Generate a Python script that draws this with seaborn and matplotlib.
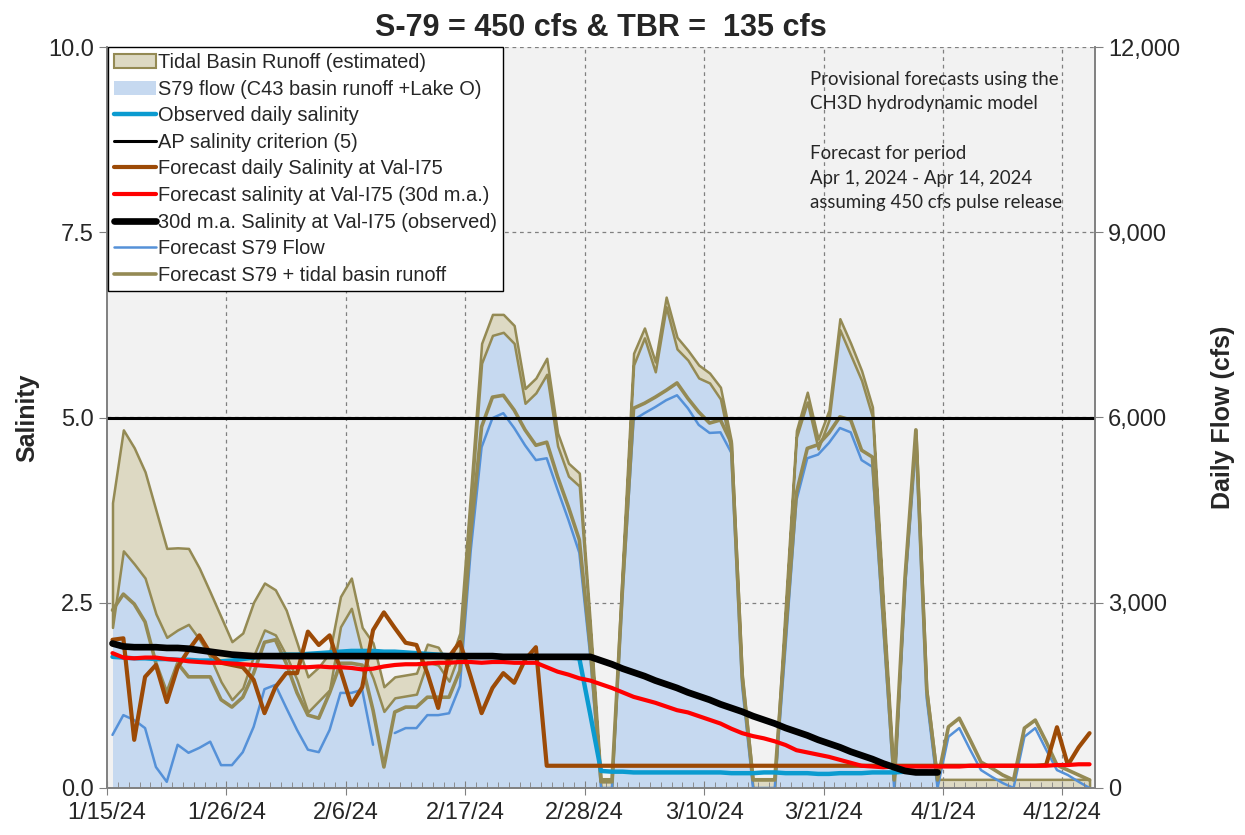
import numpy as np
import pandas as pd
import seaborn as sns
import matplotlib.pyplot as plt
import matplotlib.dates as mdates
from matplotlib.patches import Patch
from matplotlib.lines import Line2D
from matplotlib.ticker import FuncFormatter

nan = np.nan

# daily values, 1/15/24 .. 4/14/24 (points sit mid-day)
dates = pd.date_range("2024-01-15 12:00", periods=91, freq="D")

# flows (cfs)
s79_flow = [2600, 3840, 3630, 3400, 2820, 2440, 2560, 2650, 2410, 2120,
            1720, 1430, 1620, 2140, 2560, 2480, 2150, 1750, 1230, 1410,
            1590, 2610, 2910, 2200, 1780, 1240, 1460, 1490, 1520, 2040,
            1990, 1730, 2210, 4550, 6880, 7330, 7380, 7200, 6230, 6400,
            6700, 5540, 5050, 4890, 2550, 0, 0, 3540, 6850, 7290,
            6740, 7790, 7110, 6930, 6640, 6560, 6300, 5460, 1710, 0,
            0, 0, 2840, 5680, 6250, 5490, 5960, 7420, 7010, 6600,
            6010, 2880, 0, 3350, 5650, 1450, 0, 0, 0, 0,
            0, 0, 0, 0, 0, 0, 0, 0, 0, 0, 0]
tidal_runoff = [2020, 1960, 1880, 1720, 1680, 1440, 1330, 1230, 1150, 1050,
                1050, 940, 890, 870, 760, 730, 730, 600, 570, 550,
                600, 490, 490, 400, 570, 400, 340, 340, 340, 290,
                290, 260, 300, 280, 320, 340, 290, 290, 240, 240,
                260, 210, 210, 210, 150, 150, 150, 150, 190, 160,
                160, 160, 190, 160, 210, 160, 190, 160, 150, 150,
                150, 150, 160, 110, 160, 160, 160, 180, 190, 160,
                160, 160, 150, 150, 150, 140, 140, 140, 140, 140,
                140, 140, 140, 140, 140, 140, 140, 140, 140, 140, 140]
fc_s79_flow = [860, 1180, 1100, 970, 340, 100, 700, 570, 650, 750,
               370, 370, 580, 990, 1600, 1670, 1300, 940, 620, 580,
               940, 1540, 1540, 1590, 700, nan, 890, 970, 970, 1180,
               1180, 1210, 1650, 3850, 5520, 5990, 6070, 5830, 5550, 5310,
               5340, 4830, 4340, 3810, 2150, 0, 0, 3200, 5960, 6070,
               6170, 6280, 6360, 6150, 5880, 5750, 5760, 5430, 1650, 0,
               0, 0, 2300, 4660, 5340, 5400, 5590, 5830, 5760, 5310,
               5200, 2600, 0, 3250, 5650, 1450, 0, 830, 970, 620,
               290, 180, 80, 0, 830, 970, 620, 290, 210, 100, 0]
fc_total_flow = [2880, 3140, 2980, 2690, 2020, 1540, 2020, 1800, 1800, 1800,
                 1430, 1310, 1470, 1860, 2360, 2400, 2020, 1540, 1180, 1130,
                 1540, 2020, 2020, 1990, 1260, 340, 1230, 1310, 1310, 1470,
                 1470, 1470, 1900, 4130, 5850, 6330, 6360, 6120, 5800, 5550,
                 5600, 5040, 4550, 4020, 2300, 100, 100, 3300, 6150, 6230,
                 6330, 6440, 6560, 6310, 6090, 5910, 5960, 5590, 1800, 130,
                 130, 130, 2510, 4780, 5500, 5560, 5750, 6010, 5960, 5470,
                 5360, 2770, 130, 3400, 5800, 1590, 130, 990, 1130, 780,
                 420, 320, 210, 130, 970, 1100, 750, 370, 290, 210, 130]

# salinity
obs_daily_sal = [1.77, 1.76, 1.75, 1.75, 1.74, 1.74, 1.73, 1.73, 1.72, 1.72,
                 1.71, 1.72, 1.74, 1.76, 1.78, 1.79, 1.80, 1.80, 1.81, 1.82,
                 1.83, 1.84, 1.85, 1.85, 1.85, 1.84, 1.84, 1.83, 1.82, 1.81,
                 1.80, 1.79, 1.78, 1.78, 1.78, 1.78, 1.77, 1.77, 1.77, 1.77,
                 1.77, 1.76, 1.76, 1.75, 1.00, 0.23, 0.22, 0.22, 0.21, 0.21,
                 0.21, 0.21, 0.21, 0.21, 0.21, 0.21, 0.21, 0.20, 0.20, 0.20,
                 0.21, 0.21, 0.20, 0.20, 0.20, 0.19, 0.19, 0.20, 0.20, 0.20,
                 0.21, 0.21, 0.21, 0.22, 0.22, 0.22, nan, nan, nan, nan,
                 nan, nan, nan, nan, nan, nan, nan, nan, nan, nan, nan]
obs_ma_sal = [1.95, 1.91, 1.90, 1.90, 1.90, 1.89, 1.89, 1.88, 1.86, 1.84,
              1.82, 1.80, 1.79, 1.78, 1.78, 1.78, 1.78, 1.78, 1.78, 1.78,
              1.78, 1.78, 1.78, 1.78, 1.78, 1.78, 1.78, 1.78, 1.78, 1.78,
              1.78, 1.78, 1.78, 1.78, 1.78, 1.78, 1.77, 1.77, 1.77, 1.77,
              1.77, 1.77, 1.77, 1.77, 1.77, 1.72, 1.67, 1.61, 1.56, 1.51,
              1.45, 1.40, 1.35, 1.29, 1.24, 1.19, 1.13, 1.08, 1.03, 0.97,
              0.92, 0.87, 0.81, 0.76, 0.71, 0.65, 0.60, 0.55, 0.49, 0.44,
              0.39, 0.33, 0.28, 0.23, 0.21, 0.21, 0.21, nan, nan, nan,
              nan, nan, nan, nan, nan, nan, nan, nan, nan, nan, nan]
fc_ma_sal = [1.82, 1.76, 1.75, 1.76, 1.76, 1.74, 1.73, 1.71, 1.70, 1.69,
             1.69, 1.68, 1.67, 1.66, 1.65, 1.64, 1.63, 1.63, 1.63, 1.64,
             1.63, 1.63, 1.62, 1.60, 1.61, 1.64, 1.66, 1.67, 1.67, 1.68,
             1.69, 1.69, 1.70, 1.70, 1.69, 1.70, 1.70, 1.69, 1.69, 1.69,
             1.63, 1.57, 1.53, 1.48, 1.45, 1.40, 1.35, 1.29, 1.23, 1.19,
             1.15, 1.10, 1.05, 1.02, 0.97, 0.92, 0.87, 0.80, 0.74, 0.70,
             0.67, 0.63, 0.58, 0.51, 0.48, 0.45, 0.42, 0.38, 0.34, 0.30,
             0.29, 0.28, 0.29, 0.29, 0.29, 0.29, 0.29, 0.29, 0.29, 0.30,
             0.30, 0.30, 0.30, 0.30, 0.30, 0.30, 0.30, 0.31, 0.31, 0.32, 0.32]
fc_daily_sal = [2.00, 2.02, 0.65, 1.50, 1.66, 1.16, 1.63, 1.86, 2.06, 1.82,
                1.69, 1.66, 1.63, 1.46, 1.01, 1.36, 1.55, 1.55, 2.11, 1.93,
                2.06, 1.59, 1.12, 1.36, 2.13, 2.37, 2.16, 1.96, 1.93, 1.55,
                1.08, 1.77, 1.97, 1.50, 1.01, 1.35, 1.55, 1.42, 1.73, 1.90,
                0.30, 0.30, 0.30, 0.30, 0.30, 0.30, 0.30, 0.30, 0.30, 0.30,
                0.30, 0.30, 0.30, 0.30, 0.30, 0.30, 0.30, 0.30, 0.30, 0.30,
                0.30, 0.30, 0.30, 0.30, 0.30, 0.30, 0.30, 0.30, 0.30, 0.30,
                0.30, 0.30, 0.30, 0.30, 0.30, 0.30, 0.30, 0.30, 0.30, 0.30,
                0.30, 0.30, 0.30, 0.30, 0.30, 0.30, 0.31, 0.82, 0.31, 0.55, 0.74]
criterion = 5.0

tick_dates = pd.date_range("2024-01-15", "2024-04-12", freq="11D")

df = pd.DataFrame({"date": dates, "s79": s79_flow, "tidal": tidal_runoff,
                   "fc_s79": fc_s79_flow, "fc_total": fc_total_flow,
                   "obs_daily": obs_daily_sal, "obs_ma": obs_ma_sal,
                   "fc_ma": fc_ma_sal, "fc_daily": fc_daily_sal})
df["obs_total"] = df["s79"] + df["tidal"]
# keep the gap in the forecast S79 line (seaborn would bridge it)
df["fc_s79_seg"] = df["fc_s79"].isna().cumsum()

sns.set_style("ticks")
plt.rcParams["font.family"] = ["Liberation Sans", "DejaVu Sans"]

c_tan, c_olive, c_blue_fill = "#ddd9c3", "#948a54", "#c6d9f0"
c_obs, c_brown, c_fcblue = "#0b9bd0", "#9c4a06", "#5591d8"
c_axis = "#808080"

fig = plt.figure(figsize=(12.45, 8.35), dpi=100)
ax1 = fig.add_axes([0.086, 0.0563, 0.7935, 0.8874])
ax2 = ax1.twinx()
ax1.set_zorder(ax2.get_zorder() + 1)
ax1.patch.set_visible(False)
ax2.patch.set_visible(True)
ax2.set_facecolor("#f2f2f2")

# flow axis: grid, stacked areas, forecast flows
for d in tick_dates[1:]:
    ax2.axvline(d, color=c_axis, lw=0.9, ls=(0, (3, 3)), zorder=0)
ax2.yaxis.grid(True, color=c_axis, lw=0.9, ls=(0, (3, 3)), zorder=0)
ax2.fill_between(df["date"], 0, df["s79"], color=c_blue_fill, lw=0, zorder=1)
ax2.fill_between(df["date"], df["s79"], df["obs_total"], facecolor=c_tan,
                 edgecolor=c_olive, lw=1.8, zorder=2)
fc = df.dropna(subset=["fc_s79"])
sns.lineplot(data=fc, x="date", y="fc_s79", units="fc_s79_seg", ax=ax2,
             color=c_fcblue, lw=1.8, estimator=None, zorder=3)
sns.lineplot(data=df, x="date", y="fc_total", ax=ax2, color=c_olive, lw=2.6,
             estimator=None, zorder=4)

# salinity axis
sns.lineplot(data=df, x="date", y="obs_daily", ax=ax1, color=c_obs, lw=3.2, estimator=None)
ax1.axhline(criterion, color="black", lw=2.2)
sns.lineplot(data=df, x="date", y="fc_daily", ax=ax1, color=c_brown, lw=3.0, estimator=None)
sns.lineplot(data=df, x="date", y="fc_ma", ax=ax1, color="red", lw=3.0, estimator=None)
sns.lineplot(data=df, x="date", y="obs_ma", ax=ax1, color="black", lw=4.8, estimator=None)

ax1.set_xlim(pd.Timestamp("2024-01-15"), pd.Timestamp("2024-04-15"))
ax1.set_ylim(0, 10)
ax2.set_ylim(0, 12000)
ax1.set_yticks([0, 2.5, 5, 7.5, 10])
ax1.yaxis.set_major_formatter(FuncFormatter(lambda v, p: f"{v:.1f}"))
ax2.set_yticks([0, 3000, 6000, 9000, 12000])
ax2.yaxis.set_major_formatter(FuncFormatter(lambda v, p: f"{v:,.0f}"))
ax1.set_xticks(tick_dates)
ax1.xaxis.set_major_formatter(mdates.DateFormatter("%-m/%-d/%y"))
ax1.xaxis.set_minor_locator(mdates.DayLocator())

ax1.tick_params(axis="both", which="major", labelsize=17, length=6, color=c_axis)
ax1.tick_params(axis="x", which="major", direction="inout", length=10, pad=5)
ax1.tick_params(axis="x", which="minor", direction="in", length=4, color=c_axis)
ax2.tick_params(axis="y", labelsize=17, length=6, color=c_axis)
for ax in (ax1, ax2):
    ax.spines["top"].set_visible(False)
    for s in ("left", "right", "bottom"):
        ax.spines[s].set_color(c_axis)
        ax.spines[s].set_linewidth(1.2)

ax1.set_xlabel("")
ax1.set_ylabel("Salinity", fontsize=18, fontweight="bold", labelpad=6)
ax2.set_ylabel("Daily Flow (cfs)", fontsize=18, fontweight="bold", labelpad=22)
ax1.set_title("S-79 = 450 cfs & TBR =  135 cfs", fontsize=22, fontweight="bold", pad=8)

handles = [
    Patch(facecolor=c_tan, edgecolor=c_olive, lw=1.5),
    Patch(facecolor=c_blue_fill, edgecolor="none"),
    Line2D([], [], color=c_obs, lw=3.2),
    Line2D([], [], color="black", lw=2.2),
    Line2D([], [], color=c_brown, lw=3.0),
    Line2D([], [], color="red", lw=3.0),
    Line2D([], [], color="black", lw=4.8),
    Line2D([], [], color=c_fcblue, lw=1.8),
    Line2D([], [], color=c_olive, lw=2.6),
]
labels = ["Tidal Basin Runoff (estimated)", "S79 flow (C43 basin runoff +Lake O)",
          "Observed daily salinity", "AP salinity criterion (5)",
          "Forecast daily Salinity at Val-I75", "Forecast salinity at Val-I75 (30d m.a.)",
          "30d m.a. Salinity at Val-I75 (observed)", "Forecast S79 Flow",
          "Forecast S79 + tidal basin runoff"]
leg = ax1.legend(handles, labels, loc="upper left", bbox_to_anchor=(0.001, 1.0),
                 fontsize=14.4, frameon=True, fancybox=False, framealpha=1,
                 edgecolor="black", facecolor="white", handlelength=2.1,
                 handletextpad=0.1, labelspacing=0.38, borderpad=0.3,
                 borderaxespad=0.0)
leg.get_frame().set_linewidth(1.0)

ax1.text(0.712, 0.968,
         "Provisional forecasts using the\nCH3D hydrodynamic model\n\n"
         "Forecast for period\nApr 1, 2024 - Apr 14, 2024\nassuming 450 cfs pulse release",
         transform=ax1.transAxes, ha="left", va="top", fontsize=13.4,
         family=["Lato", "DejaVu Sans"], linespacing=1.55, color="#262626")

fig.savefig("out.png", dpi=100)
